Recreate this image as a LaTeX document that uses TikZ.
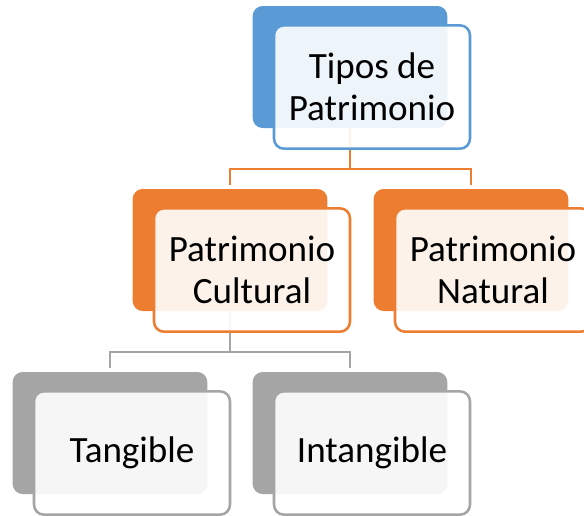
\documentclass[tikz,border=0pt]{standalone}
\usepackage{fontspec}
\setmainfont{Carlito}
\usepackage{tikz}
\usetikzlibrary{backgrounds}
\definecolor{accentblue}{HTML}{5B9BD5}
\definecolor{accentorange}{HTML}{ED7D31}
\definecolor{accentgray}{HTML}{A5A5A5}

\begin{document}
\begin{tikzpicture}[x=0.75pt, y=-0.75pt,
    backbox/.style={rectangle, rounded corners=7.5pt, fill=#1, inner sep=0pt,
        minimum width=146pt, minimum height=91.5pt},
    frontbox/.style={rectangle, rounded corners=7.5pt, draw=#1, line width=1.9pt,
        fill=white, fill opacity=0.9, text opacity=1, align=center,
        minimum width=147pt, minimum height=92.5pt,
        font=\fontsize{27.8}{31.5}\selectfont},
    link/.style={draw=#1, line width=1.6pt}]
    \useasboundingbox (0,0) rectangle (584,515);

    % Boxes: shadow block behind, framed block with text in front
    \foreach \name/\x/\y/\col/\txt in {
        tipos/350/67/accentblue/{Tipos de\\Patrimonio},
        cultural/230/250/accentorange/{Patrimonio\\Cultural},
        natural/471/250/accentorange/{Patrimonio\\Natural},
        tangible/110/433/accentgray/{Tangible},
        intangible/350/433/accentgray/{Intangible}}{
        \node[backbox=\col] (\name B) at (\x,\y) {};
        \node[frontbox=\col] (\name) at (\x+22,\y+20) {\txt};
    }

    % Connectors (behind the boxes)
    \begin{scope}[on background layer]
        \draw[link=accentorange] (tiposB.center) -- ++(0,102) -| ([yshift=3pt]culturalB.north);
        \draw[link=accentorange] (tiposB.center) -- ++(0,102) -| ([yshift=3pt]naturalB.north);
        \draw[link=accentgray] (culturalB.center) -- ++(0,102) -| ([yshift=3pt]tangibleB.north);
        \draw[link=accentgray] (culturalB.center) -- ++(0,102) -| ([yshift=3pt]intangibleB.north);
    \end{scope}

\end{tikzpicture}
\end{document}
